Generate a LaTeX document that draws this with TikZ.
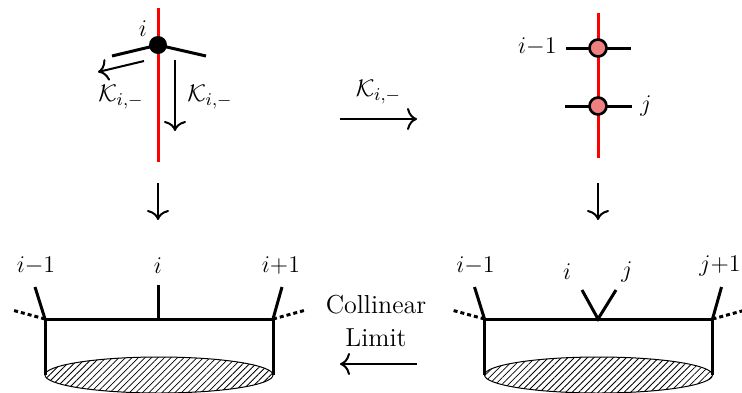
\documentclass[tikz,border=0pt]{standalone}
\usepackage{amsmath}
\usepackage{amssymb}
\usepackage{xcolor}
\usepackage{tikz}
\usetikzlibrary{positioning,calc,patterns.meta,arrows.meta}
\definecolor{dotpink}{HTML}{F08080}

\begin{document}
\begin{tikzpicture}[x=0.5pt, y=-0.5pt,
  leg/.style={line width=1.5pt, draw=black},
  redline/.style={line width=1.5pt, draw=red},
  ghostleg/.style={line width=1.5pt, draw=black, dash pattern=on 2pt off 1.5pt},
  flow/.style={-{Computer Modern Rightarrow[length=5pt,width=11pt]}, line width=1pt},
  blackdot/.style={circle, fill=black, inner sep=0pt, minimum size=9pt},
  pinkdot/.style={circle, draw=black, fill=dotpink, line width=1.3pt, inner sep=0pt, minimum size=8.5pt},
  blob/.style={draw=black, line width=0.5pt, pattern={Lines[angle=45,distance=2.3pt,line width=0.4pt]}},
  lbl/.style={inner sep=1pt, font=\fontsize{13}{16.5}\selectfont},
]
\useasboundingbox (0,0) rectangle (742,392);

% ---------- top left: vertex i sitting on the red line ----------
\draw[redline] (158,8) -- (158,162);
\node[blackdot] (vi) at (158,45) {};
\coordinate (vil) at (112,56);
\coordinate (vir) at (206,56);
\draw[leg] (vil) -- (vi.center) -- (vir);
\node[lbl] (ti) at (143,29) {$i$};
\coordinate (ka) at (144,61);
\coordinate (kb) at (98,72);
\draw[flow] (ka) -- (kb);
\node[lbl] (kl) at (121,97) {$\mathcal{K}_{i,-}$};
\coordinate (kc) at (175,60);
\coordinate (kd) at (175,131);
\draw[flow] (kc) -- (kd);
\node[lbl] (kr) at (210,97) {$\mathcal{K}_{i,-}$};

% ---------- top right: two pink vertices ----------
\draw[redline] (598,13) -- (598,158);
\coordinate (ua) at (566,48);
\coordinate (ub) at (631,48);
\coordinate (la) at (565,106);
\coordinate (lb) at (632,106);
\draw[leg] (ua) -- (ub);
\draw[leg] (la) -- (lb);
\node[pinkdot] (vu) at (598,48) {};
\node[pinkdot] (vl) at (598,106) {};
\node[lbl, anchor=east] (tim) at (559,47) {$i{-}1$};
\node[lbl, anchor=west] (tj) at (638,106) {$j$};

% ---------- arrows between the panels ----------
\coordinate (ma) at (340,119);
\coordinate (mb) at (417,119);
\draw[flow] (ma) -- (mb) node[lbl, midway, above=6pt] (mk) {$\mathcal{K}_{i,-}$};
\coordinate (da) at (158,183);
\coordinate (db) at (158,220);
\draw[flow] (da) -- (db);
\coordinate (dc) at (598,183);
\coordinate (dd) at (598,220);
\draw[flow] (dc) -- (dd);
\coordinate (ca) at (417,364);
\coordinate (cb) at (340,364);
\draw[flow] (ca) -- (cb);
\node[lbl, align=center] (cl) at (376,321) {Collinear\\Limit};

% ---------- bottom: amplitudes with external legs ----------
\foreach \cx/\nm in {159/L, 598.5/R} {
  \coordinate (\nm bl) at (\cx-114,319);
  \coordinate (\nm br) at (\cx+114,319);
  \draw[blob] (\cx,375) ellipse [x radius=114, y radius=18];
  \draw[leg] (\cx-114,375) -- (\nm bl) -- (\nm br) -- (\cx+114,375);
  \draw[leg] (\nm bl) -- ++(-10,-32);
  \draw[leg] (\nm br) -- ++(9,-32);
  \draw[ghostleg] (\nm bl) -- ++(-33,-9);
  \draw[ghostleg] (\nm br) -- ++(33,-9);
  \node[lbl] (\nm a) at (\cx-123,266) {$i{-}1$};
}
% left: single leg i
\coordinate (mi) at (158,319);
\coordinate (mt) at (158,285);
\draw[leg] (mi) -- (mt);
\node[lbl] (Li) at (158,266) {$i$};
\node[lbl] (Lip) at (281,266) {$i{+}1$};
% right: legs i and j meet
\coordinate (vv) at (598,319);
\coordinate (vvi) at (582,290);
\coordinate (vvj) at (616,290);
\draw[leg] (vvi) -- (vv) -- (vvj);
\node[lbl] (Ri) at (567,272) {$i$};
\node[lbl] (Rj) at (627,272) {$j$};
\node[lbl] (Rjp) at (720,266) {$j{+}1$};
\end{tikzpicture}
\end{document}
